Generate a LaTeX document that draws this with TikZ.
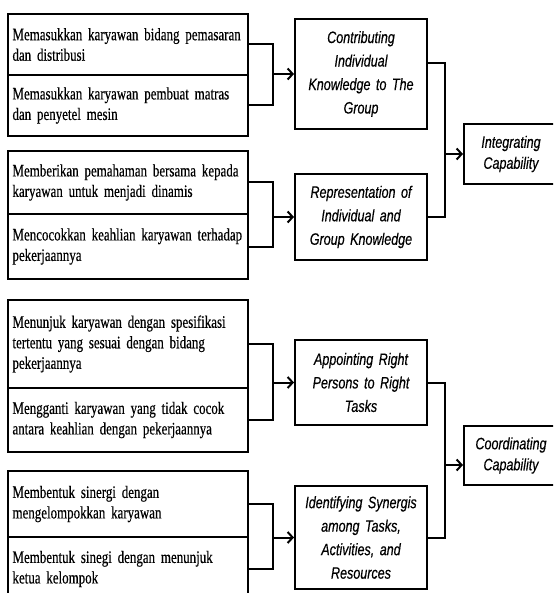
\documentclass[tikz,border=0pt]{standalone}
\usepackage{fontspec}
\usetikzlibrary{arrows.meta}
\newfontfamily\cellfont[FakeStretch=0.74, FakeBold=0.4]{Liberation Serif}
\newfontfamily\boxfont[FakeStretch=0.76, FakeBold=0.4]{Liberation Sans}
\newcommand\celltext{\cellfont\fontsize{17.5}{20.5}\selectfont\spaceskip=3.2pt\relax}
\newcommand\boxtext{\boxfont\itshape\fontsize{16.5}{23.5}\selectfont\spaceskip=3.5pt\relax}
\newcommand\captext{\boxfont\itshape\fontsize{16.5}{21}\selectfont\spaceskip=3.5pt\relax}

\begin{document}
\begin{tikzpicture}[x=1pt, y=-1pt, line width=2pt,
    leftcell/.style={draw, anchor=north west, minimum width=240pt, text width=231pt,
        inner xsep=4.5pt, inner ysep=0pt, align=left, font=\celltext},
    midbox/.style={draw, anchor=north west, minimum width=132pt, text width=128pt,
        inner xsep=2pt, inner ysep=0pt, align=center, font=\boxtext},
    capbox/.style={midbox, minimum width=94pt, text width=90pt, font=\captext},
    arr/.style={-{Straight Barb[length=5pt, width=11pt]}}]
    \useasboundingbox (0,0) rectangle (553,593);
    \clip (0,0) rectangle (553,593);

    \node[leftcell, minimum height=61pt] (a1) at (7,13) {Memasukkan karyawan bidang pemasaran\\dan distribusi};
    \node[leftcell, minimum height=61pt] (a2) at (7,74) {Memasukkan karyawan pembuat matras\\dan penyetel mesin};
    \node[leftcell, minimum height=63pt] (b1) at (7,150) {Memberikan pemahaman bersama kepada\\karyawan untuk menjadi dinamis};
    \node[leftcell, minimum height=65pt] (b2) at (7,213) {Mencocokkan keahlian karyawan terhadap\\pekerjaannya};
    \node[leftcell, minimum height=88pt] (c1) at (7,299) {Menunjuk karyawan dengan spesifikasi\\tertentu yang sesuai dengan bidang\\pekerjaannya};
    \node[leftcell, minimum height=64pt] (c2) at (7,387) {Mengganti karyawan yang tidak cocok\\antara keahlian dengan pekerjaannya};
    \node[leftcell, minimum height=66pt] (d1) at (7,470) {Membentuk sinergi dengan\\mengelompokkan karyawan};
    \node[leftcell, minimum height=64pt] (d2) at (7,536) {Membentuk sinegi dengan menunjuk\\ketua kelompok};

    \node[midbox, minimum height=110pt] (m1) at (294,18) {Contributing\\Individual\\Knowledge to The\\Group};
    \node[midbox, minimum height=86pt] (m2) at (294,173) {Representation of\\Individual and\\Group Knowledge};
    \node[midbox, minimum height=85pt] (m3) at (294,339) {Appointing Right\\Persons to Right\\Tasks};
    \node[midbox, minimum height=103pt] (m4) at (294,485) {Identifying Synergis\\among Tasks,\\Activities, and\\Resources};

    \node[capbox, minimum height=60pt] (r1) at (463,123) {Integrating\\Capability};
    \node[capbox, minimum height=59pt] (r2) at (463,425) {Coordinating\\Capability};

    \coordinate (k) at (273,0);
    \foreach \p/\q/\m in {a1/a2/m1, b1/b2/m2, c1/c2/m3, d1/d2/m4} {
        \draw (\p.east) -| (k |- \q.east) -- (\q.east);
        \draw[arr] (k |- \m.west) -- (\m.west);
    }

    \coordinate (j) at (445,0);
    \coordinate (m1out) at ([yshift=11pt]m1.east);
    \coordinate (r2in) at ([yshift=-9.5pt]r2.west);
    \draw (m1out) -| (j |- m2.east) -- (m2.east);
    \draw[arr] (j |- r1.west) -- (r1.west);
    \draw (m3.east) -| (j |- m4.east) -- (m4.east);
    \draw[arr] (j |- r2in) -- (r2in);
\end{tikzpicture}
\end{document}
